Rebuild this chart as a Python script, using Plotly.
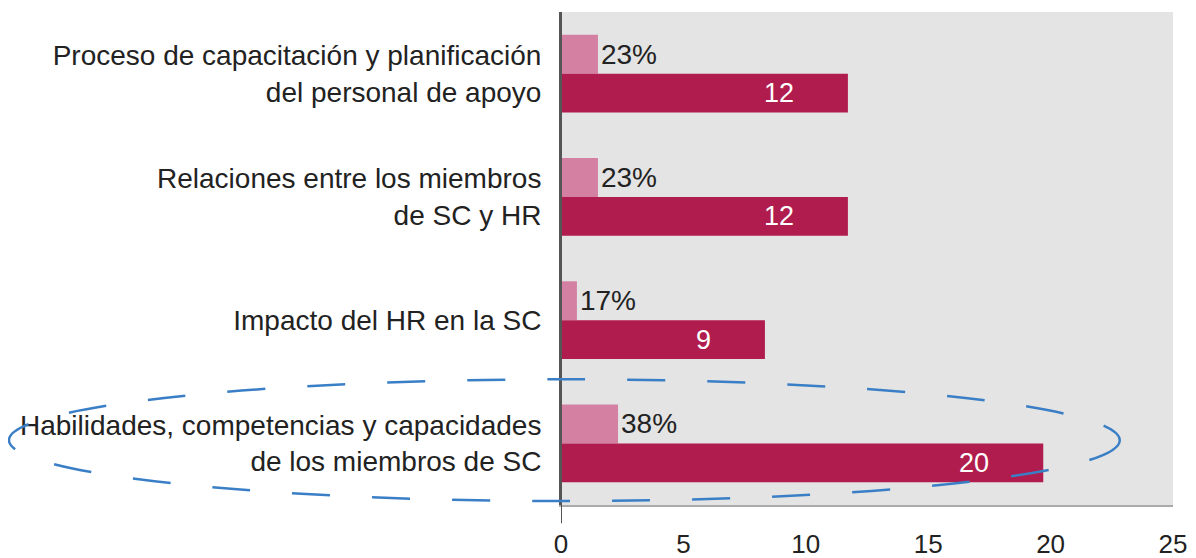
import plotly.graph_objects as go

categories = [
    "Proceso de capacitación y planificación<br>del personal de apoyo",
    "Relaciones entre los miembros<br>de SC y HR",
    "Impacto del HR en la SC",
    "Habilidades, competencias y capacidades<br>de los miembros de SC",
]
pct_bar = [1.51, 1.51, 0.65, 2.33]
pct_labels = ["23%", "23%", "17%", "38%"]
count_bar = [11.72, 11.72, 8.33, 19.7]
count_labels = ["12", "12", "9", "20"]
x_ticks = [0, 5, 10, 15, 20, 25]

FONT = "Liberation Sans, Arial, sans-serif"
FS = 28

fig = go.Figure()
fig.add_trace(go.Bar(
    y=categories, x=pct_bar, orientation="h",
    marker=dict(color="#d480a3", line=dict(width=0)),
    text=pct_labels, textposition="outside", cliponaxis=False,
    textfont=dict(size=FS, color="#222222", family=FONT),
    hoverinfo="skip",
))
fig.add_trace(go.Bar(
    y=categories, x=count_bar, orientation="h",
    marker=dict(color="#b01c4d", line=dict(width=0)),
    hoverinfo="skip",
))

for c, v, t in zip(categories, count_bar, count_labels):
    fig.add_annotation(x=v, y=c, text=t, showarrow=False, xanchor="right",
                       xshift=-52, yshift=-19.5,
                       font=dict(size=FS - 1, color="white", family=FONT))

# extension of the y axis line below the x axis
fig.add_shape(type="line", xref="x", yref="paper", x0=0, x1=0, y0=-0.037, y1=1,
              line=dict(color="#555555", width=2), layer="above")

# dashed ellipse
fig.add_shape(type="circle", xref="paper", yref="paper",
              x0=-0.902, x1=0.913, y0=0.008, y1=0.255,
              line=dict(color="#3a7fc6", width=2.5, dash="38px,42px"),
              layer="above")

fig.update_layout(
    width=1188, height=550,
    margin=dict(l=553, r=23, t=4, b=53, autoexpand=False),
    paper_bgcolor="white", plot_bgcolor="#e4e4e4",
    barmode="group", bargap=0.37, bargroupgap=0,
    showlegend=False,
    font=dict(family=FONT, size=FS, color="#222222"),
)
fig.update_xaxes(range=[0, 25], tickvals=x_ticks, showgrid=False, zeroline=False,
                 showline=True, linecolor="#aaaaaa", linewidth=2, automargin=False,
                 ticklabelstandoff=15, tickfont=dict(size=FS - 2, color="#222222"))
fig.update_yaxes(autorange="reversed", showgrid=False, zeroline=False,
                 showline=True, linecolor="#555555", linewidth=2, automargin=False,
                 ticklabelstandoff=12, tickfont=dict(size=FS, color="#222222"))

fig.write_html("out.html")
